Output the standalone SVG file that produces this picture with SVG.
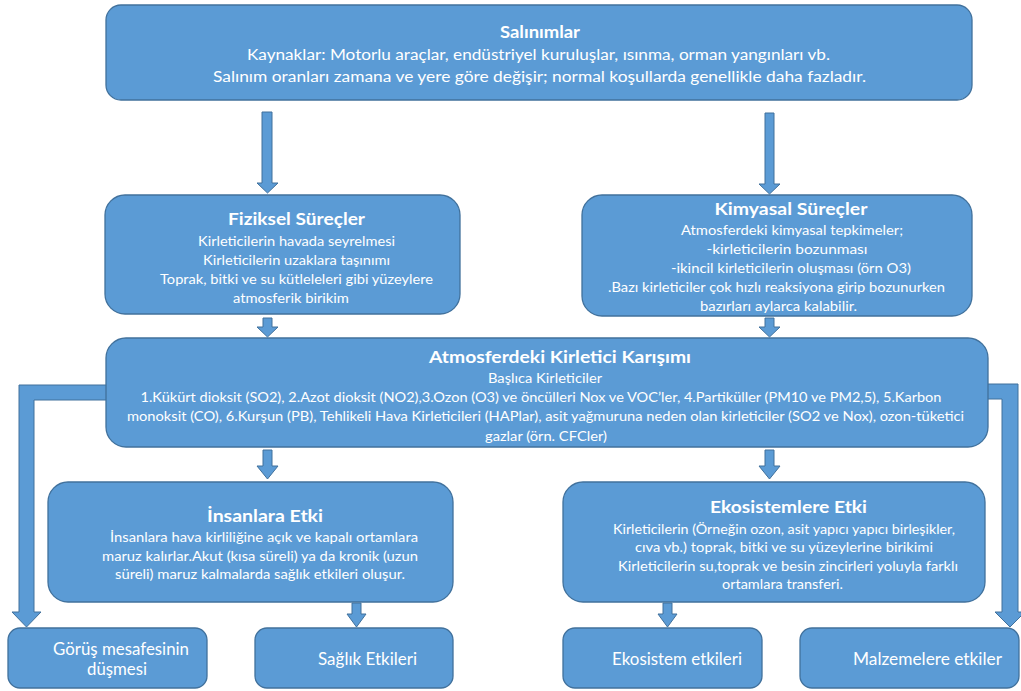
<svg xmlns="http://www.w3.org/2000/svg" width="1021" height="691" viewBox="0 0 1021 691">
<style>
.box{fill:#5B9BD5;stroke:#41719C;stroke-width:1.3}
.arr{fill:#5B9BD5;stroke:#41719C;stroke-width:1}
text{font-family:Lato,"Open Sans","Liberation Sans",sans-serif;fill:#FFFFFF;text-anchor:middle}
.t{font-weight:bold;font-size:17px}
.b{font-size:13.2px}
.tb{font-size:14.5px}
.m{font-size:13px}
.s{font-size:16.5px}
</style>
<rect width="1021" height="691" fill="#FFFFFF"/>
<g id="connectors">
<polygon class="arr" points="262,112 272,112 272,183 278,183 267.5,193 257,183 262,183"/>
<polygon class="arr" points="765,113 774,113 774,184 780,184 769.5,194 759,184 765,184"/>
<polygon class="arr" points="263,318 272,318 272,327 278,327 267.5,337 257,327 263,327"/>
<polygon class="arr" points="765,318 774,318 774,327 780,327 769.5,337 759,327 765,327"/>
<polygon class="arr" points="263,450 272,450 272,466 278,466 267.5,479 257,466 263,466"/>
<polygon class="arr" points="765,450 774,450 774,466 780,466 769.5,479 759,466 765,466"/>
<polygon class="arr" points="352,603 361,603 361,614 366,614 356.5,627 347,614 352,614"/>
<polygon class="arr" points="663,603 672,603 672,614 677,614 667.5,627 658,614 663,614"/>
<polygon class="arr" points="112,385 19,385 19,612 12,612 26.5,627 41,612 34,612 34,400 112,400"/>
<polygon class="arr" points="980,384 1018,384 1018,612 1025,612 1010,627 995,612 1002,612 1002,399 980,399"/>
</g>
<g id="salinimlar">
<rect class="box" x="106" y="5" width="866" height="95" rx="15"/>
<text class="t" x="540" y="38" textLength="80" lengthAdjust="spacingAndGlyphs">Salınımlar</text>
<text class="tb" x="538.5" y="60" textLength="583" lengthAdjust="spacingAndGlyphs">Kaynaklar: Motorlu araçlar, endüstriyel kuruluşlar, ısınma, orman yangınları vb.</text>
<text class="tb" x="539.5" y="82" textLength="653" lengthAdjust="spacingAndGlyphs">Salınım oranları zamana ve yere göre değişir; normal koşullarda genellikle daha fazladır.</text>
</g>
<g id="fiziksel">
<rect class="box" x="105" y="195" width="355" height="119" rx="20"/>
<text class="t" x="296.5" y="225" textLength="137" lengthAdjust="spacingAndGlyphs">Fiziksel Süreçler</text>
<text class="b" x="296.5" y="246" textLength="197" lengthAdjust="spacingAndGlyphs">Kirleticilerin havada seyrelmesi</text>
<text class="b" x="296.5" y="265" textLength="187" lengthAdjust="spacingAndGlyphs">Kirleticilerin uzaklara taşınımı</text>
<text class="b" x="296.5" y="284" textLength="273" lengthAdjust="spacingAndGlyphs">Toprak, bitki ve su kütleleleri gibi yüzeylere</text>
<text class="b" x="291" y="303" textLength="116" lengthAdjust="spacingAndGlyphs">atmosferik birikim</text>
</g>
<g id="kimyasal">
<rect class="box" x="582" y="195" width="390" height="121" rx="20"/>
<text class="t" x="791" y="215" textLength="153" lengthAdjust="spacingAndGlyphs">Kimyasal Süreçler</text>
<text class="b" x="792" y="235" textLength="222" lengthAdjust="spacingAndGlyphs">Atmosferdeki  kimyasal tepkimeler;</text>
<text class="b" x="787" y="254" textLength="161" lengthAdjust="spacingAndGlyphs">-kirleticilerin bozunması</text>
<text class="b" x="791" y="273" textLength="240" lengthAdjust="spacingAndGlyphs">-ikincil kirleticilerin oluşması (örn O3)</text>
<text class="b" x="776.5" y="292" textLength="337" lengthAdjust="spacingAndGlyphs">.Bazı kirleticiler çok hızlı reaksiyona girip bozunurken</text>
<text class="b" x="778.5" y="311" textLength="157" lengthAdjust="spacingAndGlyphs">bazırları aylarca kalabilir.</text>
</g>
<g id="karisim">
<rect class="box" x="106" y="338" width="882" height="109" rx="20"/>
<text class="t" x="560" y="363" textLength="262" lengthAdjust="spacingAndGlyphs">Atmosferdeki Kirletici Karışımı</text>
<text class="m" x="545" y="383" textLength="114" lengthAdjust="spacingAndGlyphs">Başlıca Kirleticiler</text>
<text class="m" x="541" y="402" textLength="801" lengthAdjust="spacingAndGlyphs">1.Kükürt dioksit (SO2), 2.Azot dioksit (NO2),3.Ozon (O3) ve öncülleri Nox ve VOC’ler, 4.Partiküller (PM10 ve PM2,5), 5.Karbon</text>
<text class="m" x="545.5" y="421" textLength="837" lengthAdjust="spacingAndGlyphs">monoksit (CO), 6.Kurşun (PB), Tehlikeli  Hava Kirleticileri (HAPlar), asit yağmuruna neden olan kirleticiler (SO2 ve Nox), ozon-tüketici</text>
<text class="m" x="546" y="441" textLength="122" lengthAdjust="spacingAndGlyphs">gazlar (örn. CFCler)</text>
</g>
<g id="insanlara">
<rect class="box" x="48" y="482" width="405" height="120" rx="20"/>
<text class="t" x="265" y="522" textLength="116" lengthAdjust="spacingAndGlyphs">İnsanlara Etki</text>
<text class="b" x="264" y="542" textLength="308" lengthAdjust="spacingAndGlyphs">İnsanlara hava kirliliğine açık ve kapalı ortamlara</text>
<text class="b" x="260" y="561" textLength="316" lengthAdjust="spacingAndGlyphs">maruz kalırlar.Akut (kısa süreli) ya da kronik (uzun</text>
<text class="b" x="260" y="579" textLength="290" lengthAdjust="spacingAndGlyphs">süreli) maruz kalmalarda sağlık etkileri  oluşur.</text>
</g>
<g id="ekosistemlere">
<rect class="box" x="563" y="482" width="422" height="120" rx="20"/>
<text class="t" x="788.5" y="513" textLength="157" lengthAdjust="spacingAndGlyphs">Ekosistemlere Etki</text>
<text class="b" x="784" y="534" textLength="342" lengthAdjust="spacingAndGlyphs">Kirleticilerin (Örneğin ozon, asit yapıcı yapıcı birleşikler,</text>
<text class="b" x="784" y="552" textLength="298" lengthAdjust="spacingAndGlyphs">cıva vb.) toprak, bitki ve su yüzeylerine birikimi</text>
<text class="b" x="788" y="571" textLength="340" lengthAdjust="spacingAndGlyphs">Kirleticilerin su,toprak ve besin zincirleri yoluyla farklı</text>
<text class="b" x="782.5" y="589" textLength="121" lengthAdjust="spacingAndGlyphs">ortamlara transferi.</text>
</g>
<g id="gorus">
<rect class="box" x="8" y="628" width="199" height="60" rx="12"/>
<text class="s" x="121" y="655" textLength="136" lengthAdjust="spacingAndGlyphs">Görüş mesafesinin</text>
<text class="s" x="117" y="675" textLength="60" lengthAdjust="spacingAndGlyphs">düşmesi</text>
</g>
<g id="saglik">
<rect class="box" x="255" y="628" width="198" height="60" rx="12"/>
<text class="s" x="367.5" y="665" textLength="99" lengthAdjust="spacingAndGlyphs">Sağlık Etkileri</text>
</g>
<g id="ekosistem">
<rect class="box" x="563" y="628" width="199" height="60" rx="12"/>
<text class="s" x="677" y="665" textLength="130" lengthAdjust="spacingAndGlyphs">Ekosistem etkileri</text>
</g>
<g id="malzemeler">
<rect class="box" x="800" y="628" width="219" height="60" rx="12"/>
<text class="s" x="927.5" y="665" textLength="149" lengthAdjust="spacingAndGlyphs">Malzemelere etkiler</text>
</g>
</svg>
